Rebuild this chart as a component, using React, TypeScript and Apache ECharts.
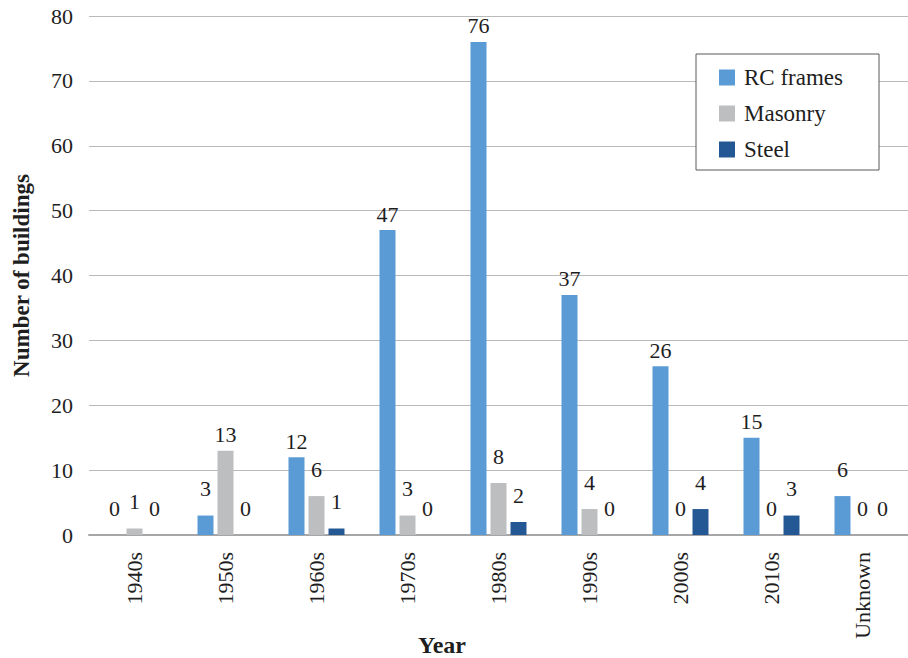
import React, { useEffect, useRef } from "react";
import * as echarts from "echarts";

// Building counts per construction decade, split by structural system
const decades = ["1940s", "1950s", "1960s", "1970s", "1980s", "1990s", "2000s", "2010s", "Unknown"];
const rcFrames = [0, 3, 12, 47, 76, 37, 26, 15, 6];
const masonry = [1, 13, 6, 3, 8, 4, 0, 0, 0];
const steel = [0, 0, 1, 0, 2, 0, 4, 3, 0];
const yTicks = [0, 10, 20, 30, 40, 50, 60, 70, 80];

const FONT = "Liberation Serif";
const TEXT = "#1E1E1E";

export default function App() {
  const ref = useRef<HTMLDivElement>(null);

  useEffect(() => {
    document.body.style.margin = "0";
    if (!ref.current) return;
    const chart = echarts.init(ref.current, undefined, { renderer: "svg" });

    const makeSeries = (name: string, values: number[], color: string) => ({
      name,
      type: "bar",
      barWidth: 16,
      barGap: "25%",
      itemStyle: { color },
      data: values.map((v) => ({
        value: v,
        // short bars carry their value a little higher above the bar
        label: { distance: v < 10 ? 16 : 5 },
      })),
      label: {
        show: true,
        position: "top",
        fontFamily: FONT,
        fontSize: 22,
        color: TEXT,
      },
    });

    chart.setOption({
      animation: false,
      textStyle: { fontFamily: FONT },
      grid: { left: 89, top: 16, width: 823.5, height: 519, containLabel: false },
      legend: {
        orient: "vertical",
        left: 719,
        top: 66,
        padding: 0,
        itemWidth: 16,
        itemHeight: 16,
        itemGap: 13,
        icon: "rect",
        textStyle: { fontFamily: FONT, fontSize: 23, color: TEXT, lineHeight: 22, padding: [0, 0, 0, 4] },
        data: ["RC frames", "Masonry", "Steel"],
      },
      graphic: [
        {
          type: "rect",
          z: 1,
          shape: { x: 696, y: 54, width: 183, height: 116 },
          style: { fill: "#ffffff", stroke: "#595959", lineWidth: 1 },
        },
        {
          type: "text",
          z: 5,
          x: 442,
          y: 645,
          style: {
            text: "Year",
            fontFamily: FONT,
            fontSize: 24,
            fontWeight: "bold",
            fill: TEXT,
            align: "center",
            verticalAlign: "middle",
          },
        },
      ],
      xAxis: {
        type: "category",
        data: decades,
        axisTick: { show: false },
        axisLine: { lineStyle: { color: "#A6A6A6", width: 2 } },
        axisLabel: {
          rotate: 90,
          margin: 17,
          fontFamily: FONT,
          fontSize: 22,
          color: TEXT,
          interval: 0,
        },
      },
      yAxis: {
        type: "value",
        min: yTicks[0],
        max: yTicks[yTicks.length - 1],
        interval: 10,
        name: "Number of buildings",
        nameLocation: "middle",
        nameGap: 56,
        nameRotate: 90,
        nameTextStyle: { fontFamily: FONT, fontSize: 23, fontWeight: "bold", color: TEXT },
        axisLine: { show: false },
        axisTick: { show: false },
        axisLabel: { margin: 16, fontFamily: FONT, fontSize: 22, color: TEXT },
        splitLine: { lineStyle: { color: "#BABABA", width: 1 } },
      },
      series: [
        makeSeries("RC frames", rcFrames, "#5B9BD5"),
        makeSeries("Masonry", masonry, "#BDBEC0"),
        makeSeries("Steel", steel, "#245894"),
      ],
    });

    return () => chart.dispose();
  }, []);

  return <div ref={ref} style={{ width: 908, height: 658 }} />;
}
